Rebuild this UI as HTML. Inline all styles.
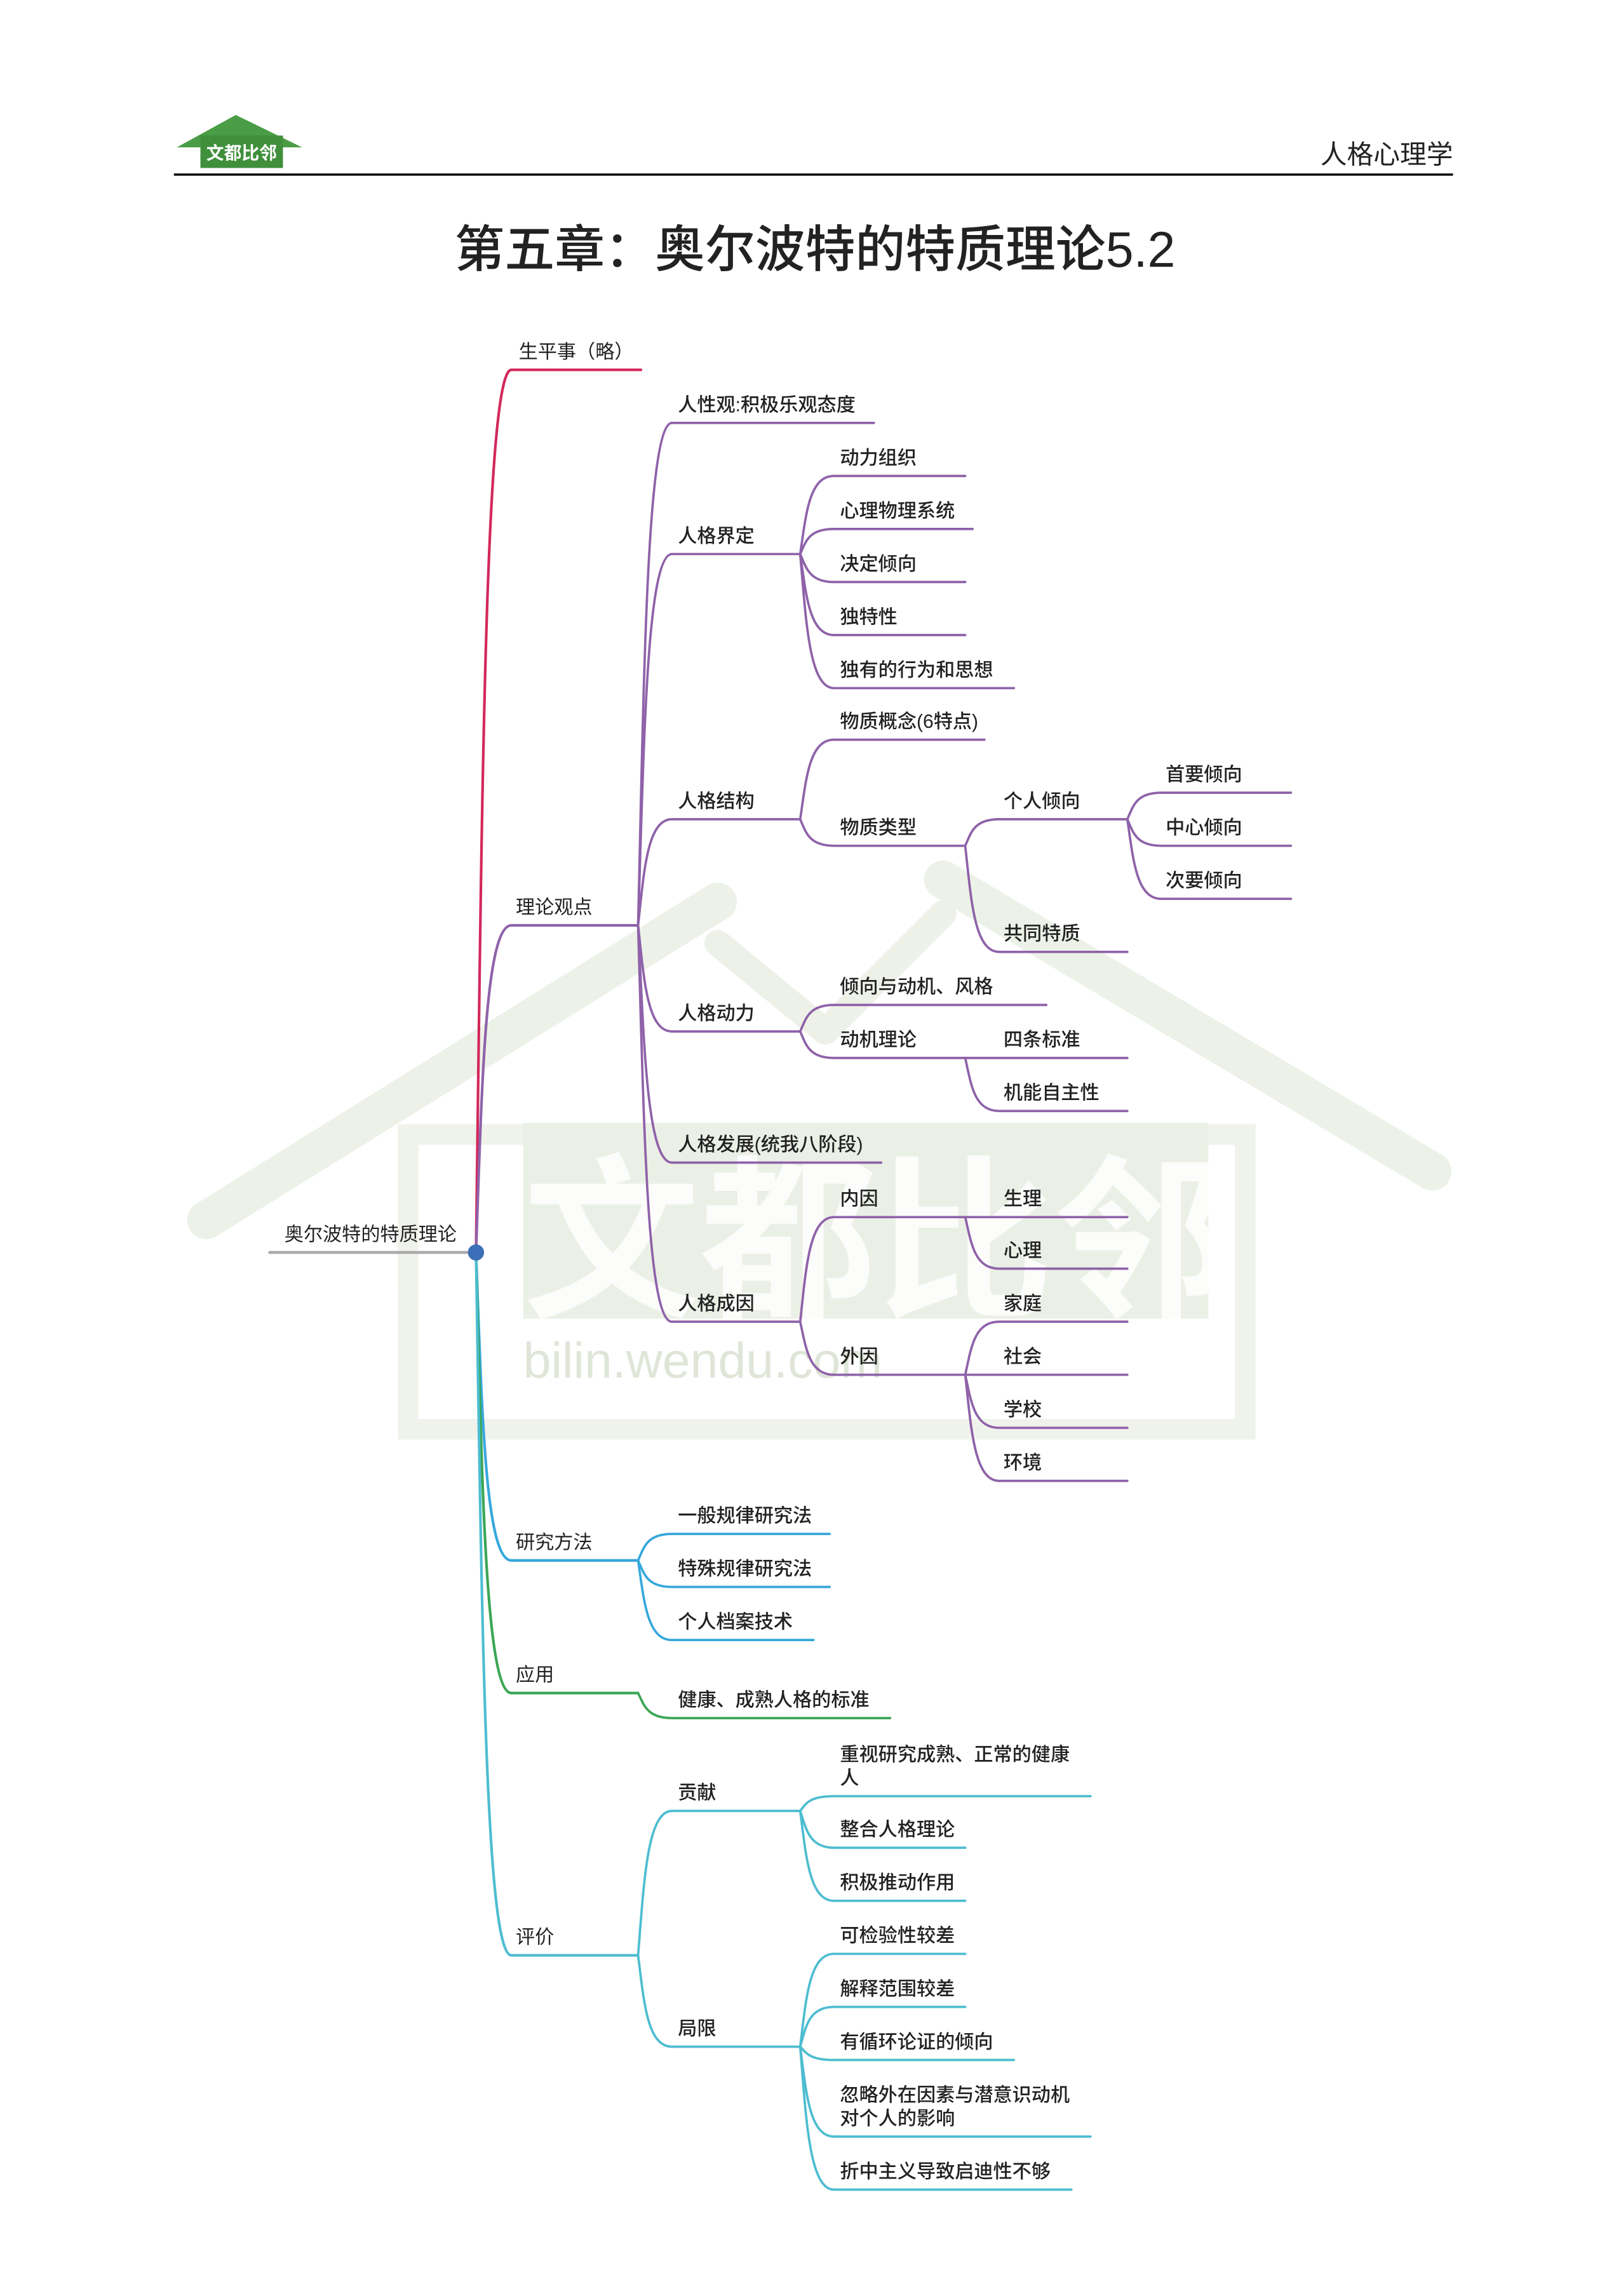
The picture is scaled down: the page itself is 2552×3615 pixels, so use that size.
<!DOCTYPE html>
<html><head><meta charset="utf-8">
<style>
html,body{margin:0;padding:0;background:#fff;}
svg{display:block;}
text{font-family:"Liberation Sans","Noto Sans CJK SC",sans-serif;fill:#222;}
.n{font-size:13px;font-weight:500;}
.l1{font-size:13px;}
path{fill:none;stroke-linecap:round;}
.pu{stroke:#8f62a9;stroke-width:1.6;}
.bl{stroke:#36a8dc;stroke-width:1.6;}
.gr{stroke:#3aa655;stroke-width:1.6;}
.te{stroke:#4dbdd0;stroke-width:1.6;}
</style></head>
<body>
<svg width="2552" height="3615" viewBox="0 0 1100 1558.2" xmlns="http://www.w3.org/2000/svg">
<!-- watermark -->
<g opacity="0.55">
<path d="M140 828 L487 612" style="stroke:#dfe7d6;stroke-width:26"/>
<path d="M640 597 L972 795" style="stroke:#dfe7d6;stroke-width:26"/>
<path d="M487 640 L560 700" style="stroke:#dfe7d6;stroke-width:18"/>
<path d="M640 620 L560 700" style="stroke:#dfe7d6;stroke-width:18"/>
<rect x="277" y="770" width="568" height="200" style="fill:none;stroke:#e4eadc;stroke-width:14"/>
<rect x="355" y="762" width="465" height="133" style="fill:#dbe5d2"/>
</g>
<text x="355" y="885" style="font-size:120px;font-weight:bold;fill:#ffffff;opacity:0.85">文都比邻</text>
<text x="355" y="935" style="font-size:34px;fill:#dfe6d8">bilin.wendu.com</text>

<!-- header -->
<polygon points="120,100 160,78 205,100" fill="#4a9d45"/>
<rect x="136" y="92" width="56" height="22" fill="#3f8f3b"/>
<text x="140" y="108" style="font-size:12px;font-weight:bold;fill:#fff">文都比邻</text>
<line x1="118" y1="118.5" x2="986" y2="118.5" stroke="#000" stroke-width="1.5"/>
<text x="986" y="111" text-anchor="end" style="font-size:18px">人格心理学</text>
<text x="553" y="181" text-anchor="middle" style="font-size:34px;font-weight:500">第五章：奥尔波特的特质理论5.2</text>

<!-- root -->
<path d="M183 850 L323 850" style="stroke:#aaa;stroke-width:2"/>
<text x="193" y="842" class="l1">奥尔波特的特质理论</text>

<!-- level1 -->
<path d="M323 850 C327 550 329 251 347 251 L435 251" style="stroke:#d2285c;stroke-width:1.8"/>
<path d="M323 850 C327 739 329 628 347 628 L433 628" class="pu" style="stroke-width:1.8"/>
<path d="M323 850 C327 954 329 1059 347 1059 L433 1059" class="bl" style="stroke-width:1.8"/>
<path d="M323 850 C327 999 329 1149 347 1149 L433 1149" class="gr" style="stroke-width:1.8"/>
<path d="M323 850 C327 1088 329 1327 347 1327 L433 1327" class="te" style="stroke-width:1.8"/>
<circle cx="323" cy="850" r="5.5" fill="#3d6fb8"/>
<text x="352" y="243" class="l1">生平事（略）</text>
<text x="350" y="620" class="l1">理论观点</text>
<text x="350" y="1051" class="l1">研究方法</text>
<text x="350" y="1141" class="l1">应用</text>
<text x="350" y="1319" class="l1">评价</text>

<!-- 理论观点 -->
<path class="pu" d="M433 628 C437 457 439 287 456 287 L593 287"/>
<path class="pu" d="M433 628 C437 502 439 376 456 376 L543 376"/>
<path class="pu" d="M433 628 C437 592 439 556 456 556 L543 556"/>
<path class="pu" d="M433 628 C437 664 439 700 456 700 L543 700"/>
<path class="pu" d="M433 628 C437 708 439 789 456 789 L598 789"/>
<path class="pu" d="M433 628 C437 762 439 897 456 897 L543 897"/>
<text x="460" y="279" class="n">人性观:积极乐观态度</text>
<text x="460" y="368" class="n">人格界定</text>
<text x="460" y="548" class="n">人格结构</text>
<text x="460" y="692" class="n">人格动力</text>
<text x="460" y="781" class="n">人格发展(统我八阶段)</text>
<text x="460" y="889" class="n">人格成因</text>

<path class="pu" d="M543 376 C547 349 549 323 566 323 L655 323"/>
<path class="pu" d="M543 376 C547 367 549 359 566 359 L660 359"/>
<path class="pu" d="M543 376 C547 385 549 395 566 395 L655 395"/>
<path class="pu" d="M543 376 C547 403 549 431 566 431 L655 431"/>
<path class="pu" d="M543 376 C547 421 549 467 566 467 L688 467"/>
<text x="570" y="315" class="n">动力组织</text>
<text x="570" y="351" class="n">心理物理系统</text>
<text x="570" y="387" class="n">决定倾向</text>
<text x="570" y="423" class="n">独特性</text>
<text x="570" y="459" class="n">独有的行为和思想</text>

<path class="pu" d="M543 556 C547 529 549 502 566 502 L668 502"/>
<path class="pu" d="M543 556 C547 565 549 574 566 574 L655 574"/>
<text x="570" y="494" class="n">物质概念(6特点)</text>
<text x="570" y="566" class="n">物质类型</text>
<path class="pu" d="M655 574 C659 565 661 556 678 556 L765 556"/>
<path class="pu" d="M655 574 C659 610 661 646 678 646 L765 646"/>
<text x="681" y="548" class="n">个人倾向</text>
<text x="681" y="638" class="n">共同特质</text>
<path class="pu" d="M765 556 C769 547 771 538 788 538 L876 538"/>
<path class="pu" d="M765 556 C769 565 771 574 788 574 L876 574"/>
<path class="pu" d="M765 556 C769 583 771 610 788 610 L876 610"/>
<text x="791" y="530" class="n">首要倾向</text>
<text x="791" y="566" class="n">中心倾向</text>
<text x="791" y="602" class="n">次要倾向</text>

<path class="pu" d="M543 700 C547 691 549 682 566 682 L710 682"/>
<path class="pu" d="M543 700 C547 709 549 718 566 718 L655 718"/>
<text x="570" y="674" class="n">倾向与动机、风格</text>
<text x="570" y="710" class="n">动机理论</text>
<path class="pu" d="M655 718 L765 718"/>
<path class="pu" d="M655 718 C659 736 661 754 678 754 L765 754"/>
<text x="681" y="710" class="n">四条标准</text>
<text x="681" y="746" class="n">机能自主性</text>

<path class="pu" d="M543 897 C547 861 549 826 566 826 L655 826"/>
<path class="pu" d="M543 897 C547 915 549 933 566 933 L655 933"/>
<text x="570" y="818" class="n">内因</text>
<text x="570" y="925" class="n">外因</text>
<path class="pu" d="M655 826 L765 826"/>
<path class="pu" d="M655 826 C659 843 661 861 678 861 L765 861"/>
<text x="681" y="818" class="n">生理</text>
<text x="681" y="853" class="n">心理</text>
<path class="pu" d="M655 933 C659 915 661 897 678 897 L765 897"/>
<path class="pu" d="M655 933 L765 933"/>
<path class="pu" d="M655 933 C659 951 661 969 678 969 L765 969"/>
<path class="pu" d="M655 933 C659 969 661 1005 678 1005 L765 1005"/>
<text x="681" y="889" class="n">家庭</text>
<text x="681" y="925" class="n">社会</text>
<text x="681" y="961" class="n">学校</text>
<text x="681" y="997" class="n">环境</text>

<!-- 研究方法 -->
<path class="bl" d="M433 1059 C437 1050 439 1041 456 1041 L563 1041"/>
<path class="bl" d="M433 1059 C437 1068 439 1077 456 1077 L563 1077"/>
<path class="bl" d="M433 1059 C437 1086 439 1113 456 1113 L552 1113"/>
<text x="460" y="1033" class="n">一般规律研究法</text>
<text x="460" y="1069" class="n">特殊规律研究法</text>
<text x="460" y="1105" class="n">个人档案技术</text>

<!-- 应用 -->
<path class="gr" d="M433 1149 C437 1157 439 1166 456 1166 L604 1166"/>
<text x="460" y="1158" class="n">健康、成熟人格的标准</text>

<!-- 评价 -->
<path class="te" d="M433 1327 C437 1278 439 1229 456 1229 L543 1229"/>
<path class="te" d="M433 1327 C437 1358 439 1389 456 1389 L543 1389"/>
<text x="460" y="1221" class="n">贡献</text>
<text x="460" y="1381" class="n">局限</text>
<path class="te" d="M543 1229 C547 1224 549 1219 566 1219 L740 1219"/>
<path class="te" d="M543 1229 C547 1241 549 1254 566 1254 L655 1254"/>
<path class="te" d="M543 1229 C547 1259 549 1290 566 1290 L655 1290"/>
<text x="570" y="1195" class="n">重视研究成熟、正常的健康</text>
<text x="570" y="1211" class="n">人</text>
<text x="570" y="1246" class="n">整合人格理论</text>
<text x="570" y="1282" class="n">积极推动作用</text>
<path class="te" d="M543 1389 C547 1357 549 1326 566 1326 L655 1326"/>
<path class="te" d="M543 1389 C547 1375 549 1362 566 1362 L655 1362"/>
<path class="te" d="M543 1389 C547 1393 549 1398 566 1398 L688 1398"/>
<path class="te" d="M543 1389 C547 1419 549 1450 566 1450 L740 1450"/>
<path class="te" d="M543 1389 C547 1437 549 1486 566 1486 L727 1486"/>
<text x="570" y="1318" class="n">可检验性较差</text>
<text x="570" y="1354" class="n">解释范围较差</text>
<text x="570" y="1390" class="n">有循环论证的倾向</text>
<text x="570" y="1426" class="n">忽略外在因素与潜意识动机</text>
<text x="570" y="1442" class="n">对个人的影响</text>
<text x="570" y="1478" class="n">折中主义导致启迪性不够</text>
</svg>
</body></html>
